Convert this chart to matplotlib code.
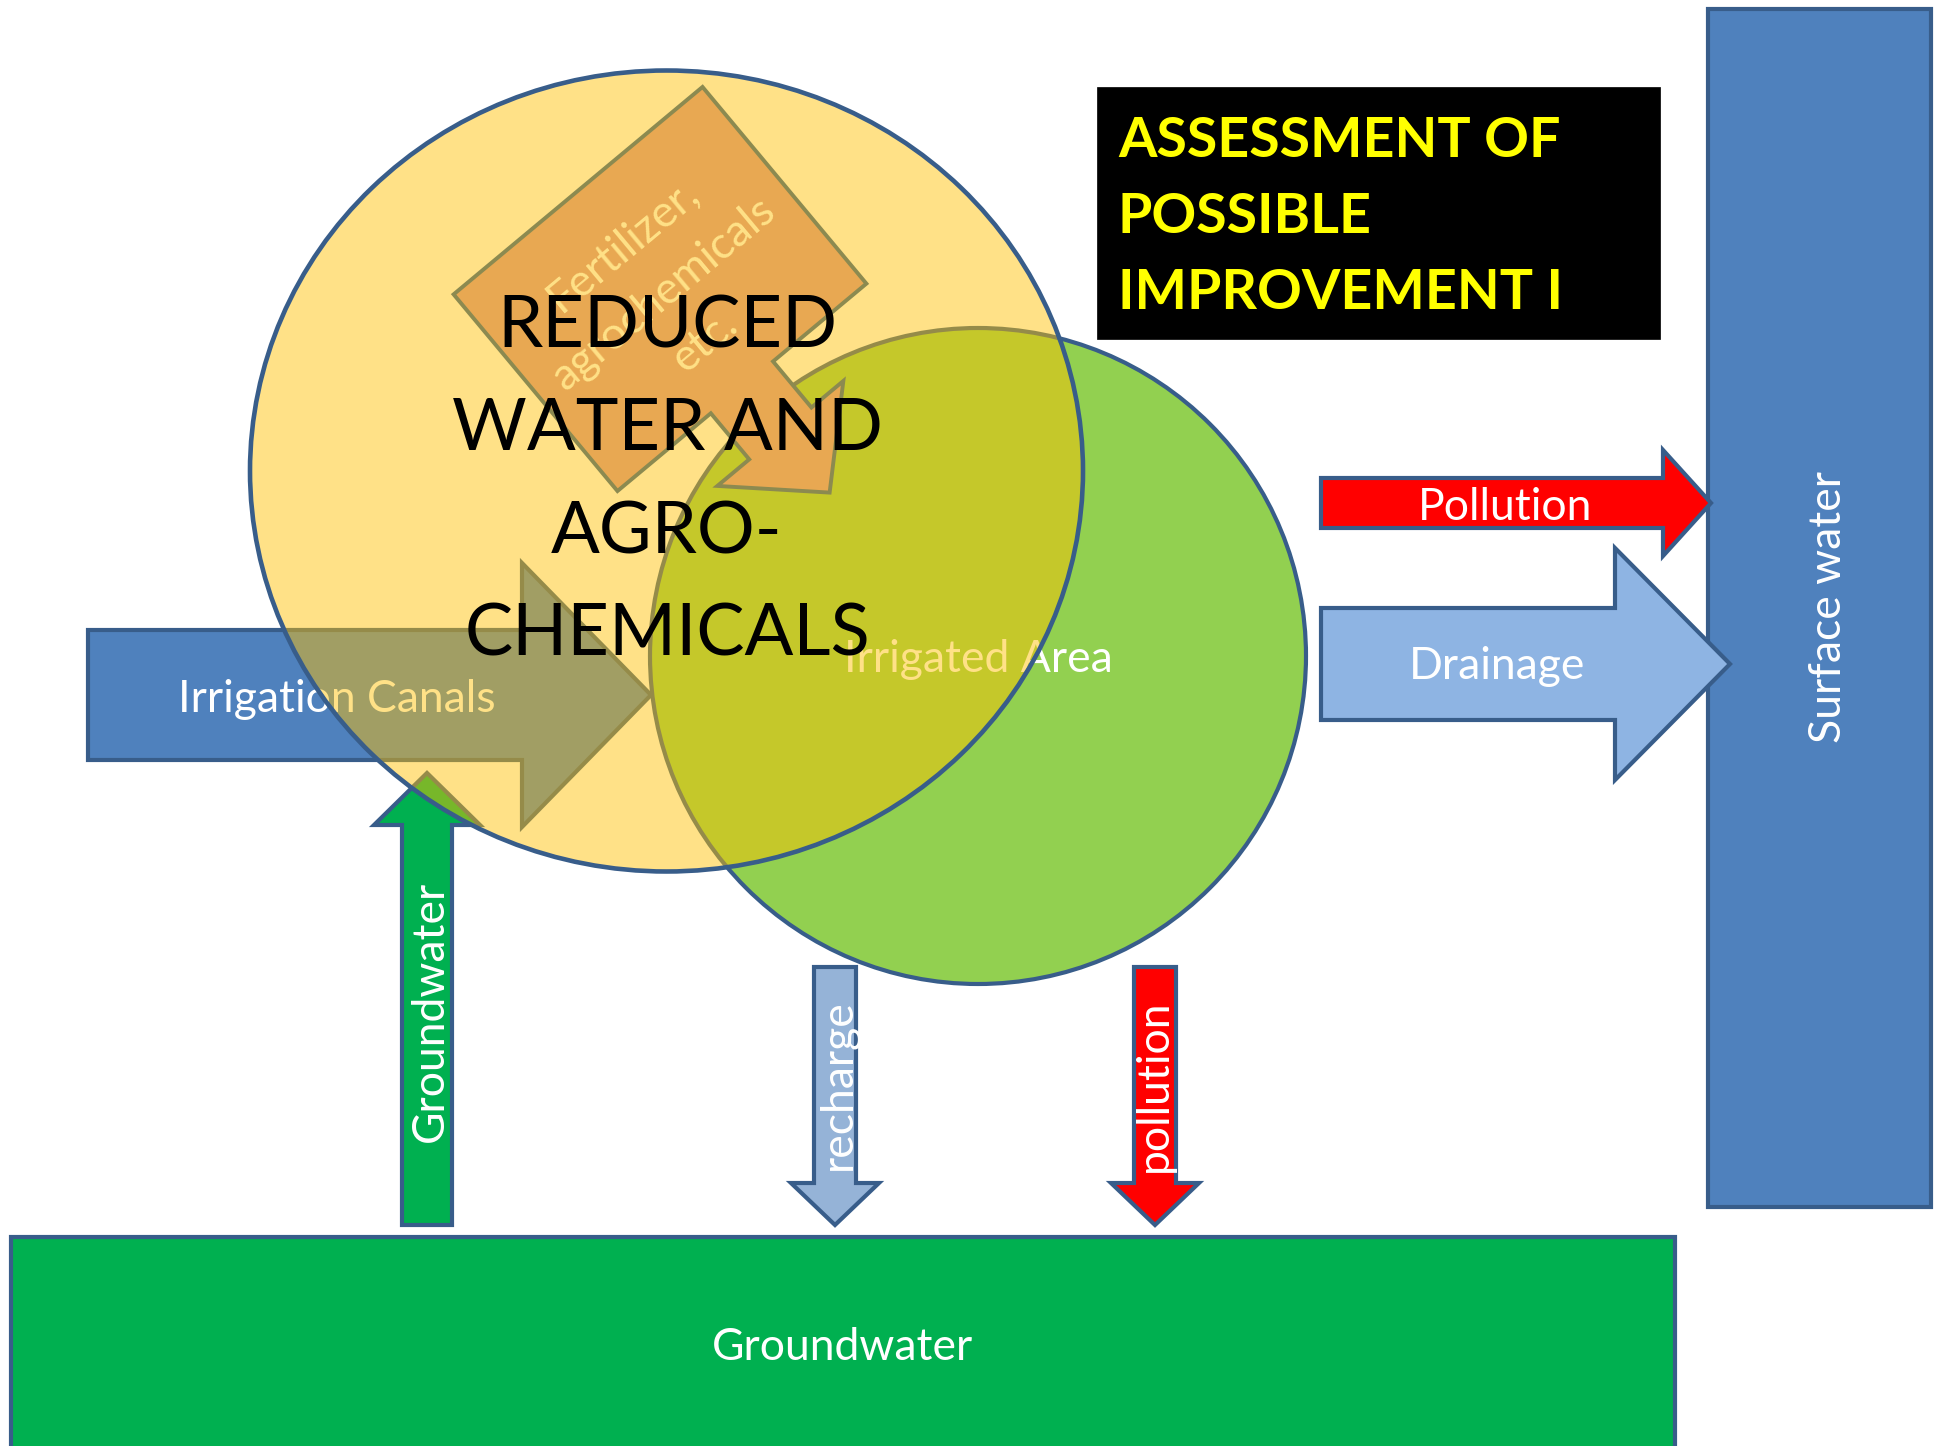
import numpy as np
import matplotlib
matplotlib.use("Agg")
import matplotlib.pyplot as plt
from matplotlib.patches import Polygon, Rectangle, Circle, Ellipse

# canvas in pixels of the reference (y runs downwards)
W, H = 1941, 1446

# colours
EDGE = "#385D8A"
BLUE = "#4F81BD"
LIGHT_BLUE = "#8EB4E3"
RECHARGE_BLUE = "#95B3D7"
FIELD_GREEN = "#92D050"
GW_GREEN = "#00B050"
RED = "#FF0000"
GOLD = "#FFC000"
ORANGE = "#E8A852"
OLIVE = "#8C8A50"
PALE = "#FFE187"

# labels
title_lines = ["ASSESSMENT OF", "POSSIBLE", "IMPROVEMENT I"]
big_lines = ["REDUCED", "WATER AND", "AGRO-", "CHEMICALS"]
fert_lines = ["Fertilizer,", "agrochemicals", "etc."]

# rectangles: x0, y0, x1, y1
surface_rect = (1708, 9, 1931, 1207)
ground_rect = (11, 1237, 1675, 1480)
title_rect = (1097, 87, 1660, 339)

# round shapes
field_circle = (978, 656, 328)             # cx, cy, r
reduced_ellipse = (666.5, 471, 833, 801)   # cx, cy, width, height

# block arrows: start, head base, tip, centre line, half body, half head
canal_arrow = (88, 522, 651, 695, 65, 132)
pollution_arrow = (1321, 1663, 1711, 503, 25, 53)
drain_arrow = (1321, 1615, 1730, 664, 56, 116)
gw_arrow = (1225, 825, 773, 427, 25, 53)
recharge_arrow = (967, 1183, 1225, 835, 21, 44)
pollution_down = (967, 1183, 1225, 1155, 21, 44)

# tilted callout: centre, angle, body half length/width, stem end, stem half, head half, tip
callout_centre = (660, 289)
callout_angle = 50.2
callout_body = (128, 162)
callout_stem = (188, 40.5)
callout_head = (82, 265)

LW = 3.0
LABEL = 32


def block_arrow(start, base, tip, centre, hb, hh, horizontal=True):
    pts = [(start, centre - hb), (base, centre - hb), (base, centre - hh),
           (tip, centre), (base, centre + hh), (base, centre + hb),
           (start, centre + hb)]
    if not horizontal:
        pts = [(b, a) for a, b in pts]
    return pts


def draw_poly(ax, pts, face, edge=EDGE, lw=LW, z=2):
    ax.add_patch(Polygon(pts, closed=True, facecolor=face, edgecolor=edge,
                         linewidth=lw, joinstyle="miter", zorder=z))


def draw_rect(ax, r, face, edge=EDGE, lw=LW, z=1):
    ax.add_patch(Rectangle((r[0], r[1]), r[2] - r[0], r[3] - r[1],
                           facecolor=face, edgecolor=edge, linewidth=lw, zorder=z))


plt.rcParams["font.family"] = ["Lato", "DejaVu Sans"]

fig = plt.figure(figsize=(W / 100, H / 100), dpi=100)
ax = fig.add_axes([0, 0, 1, 1])
ax.set_xlim(0, W)
ax.set_ylim(H, 0)
ax.axis("off")

# surface water column
draw_rect(ax, surface_rect, BLUE)
ax.text(1841, 607, "Surface water", color="white", fontsize=LABEL, rotation=90,
        rotation_mode="anchor", ha="center", va="baseline", zorder=3)

# groundwater slab at the bottom
draw_rect(ax, ground_rect, GW_GREEN)
ax.text(842, 1360, "Groundwater", color="white", fontsize=LABEL,
        ha="center", va="baseline", zorder=3)

# irrigated area
cx, cy, r = field_circle
ax.add_patch(Circle((cx, cy), r, facecolor=FIELD_GREEN, edgecolor=EDGE,
                    linewidth=LW, zorder=2))
ax.text(978, 672, "Irrigated Area", color="white", fontsize=LABEL,
        ha="center", va="baseline", zorder=3)

# irrigation canals
draw_poly(ax, block_arrow(*canal_arrow), BLUE, z=3)
ax.text(337, 712, "Irrigation Canals", color="white", fontsize=LABEL,
        ha="center", va="baseline", zorder=4)

# groundwater pumped up
draw_poly(ax, block_arrow(*gw_arrow, horizontal=False), GW_GREEN, z=3)
ax.text(443, 1011, "Groundwater", color="white", fontsize=LABEL, rotation=90,
        rotation_mode="anchor", ha="center", va="baseline", zorder=4)

# recharge and pollution to groundwater
draw_poly(ax, block_arrow(*recharge_arrow, horizontal=False), RECHARGE_BLUE, z=3)
ax.text(851, 1085, "recharge", color="white", fontsize=LABEL, rotation=90,
        rotation_mode="anchor", ha="center", va="baseline", zorder=4)
draw_poly(ax, block_arrow(*pollution_down, horizontal=False), RED, z=3)
ax.text(1167, 1086, "pollution", color="white", fontsize=LABEL, rotation=90,
        rotation_mode="anchor", ha="center", va="baseline", zorder=4)

# flows to surface water
draw_poly(ax, block_arrow(*pollution_arrow), RED, z=3)
ax.text(1505, 520, "Pollution", color="white", fontsize=LABEL,
        ha="center", va="baseline", zorder=4)
draw_poly(ax, block_arrow(*drain_arrow), LIGHT_BLUE, z=3)
ax.text(1497, 679, "Drainage", color="white", fontsize=LABEL,
        ha="center", va="baseline", zorder=4)

# translucent "reduced" ellipse over everything below
ex, ey, ew, eh = reduced_ellipse
ax.add_patch(Ellipse((ex, ey), ew, eh, facecolor=GOLD, alpha=0.47,
                     edgecolor="none", zorder=5))
ax.add_patch(Ellipse((ex, ey), ew, eh, facecolor="none", edgecolor=EDGE,
                     linewidth=LW + 0.3, zorder=6))

# fertilizer callout
a = np.radians(callout_angle)
u_hat = np.array([np.cos(a), np.sin(a)])
v_hat = np.array([np.sin(a), -np.cos(a)])
bu, bv = callout_body
su, sv = callout_stem
hv, tu = callout_head
local = [(-bu, bv), (bu, bv), (bu, sv), (su, sv), (su, hv), (tu, 0),
         (su, -hv), (su, -sv), (bu, -sv), (bu, -bv), (-bu, -bv)]
c0 = np.array(callout_centre, dtype=float)
pts = [tuple(c0 + u * u_hat + v * v_hat) for u, v in local]
draw_poly(ax, pts, ORANGE, edge=OLIVE, lw=2.8, z=7)
for k, line in enumerate(fert_lines):
    p = c0 + (6 + (k - 1) * 63) * u_hat
    ax.text(p[0], p[1], line, color=PALE, fontsize=LABEL, rotation=90 - callout_angle,
            rotation_mode="anchor", ha="center", va="center", zorder=8)

# main message
for k, line in enumerate(big_lines):
    ax.text(667, 347 + k * 103, line, color="black", fontsize=52,
            ha="center", va="baseline", zorder=9)

# title box
draw_rect(ax, title_rect, "black", edge="black", lw=0.5, z=9)
for k, line in enumerate(title_lines):
    ax.text(1118, 157 + k * 76, line, color="#FFFF00", fontsize=40,
            fontweight="bold", ha="left", va="baseline", zorder=10)

fig.savefig("out.png", dpi=100)
